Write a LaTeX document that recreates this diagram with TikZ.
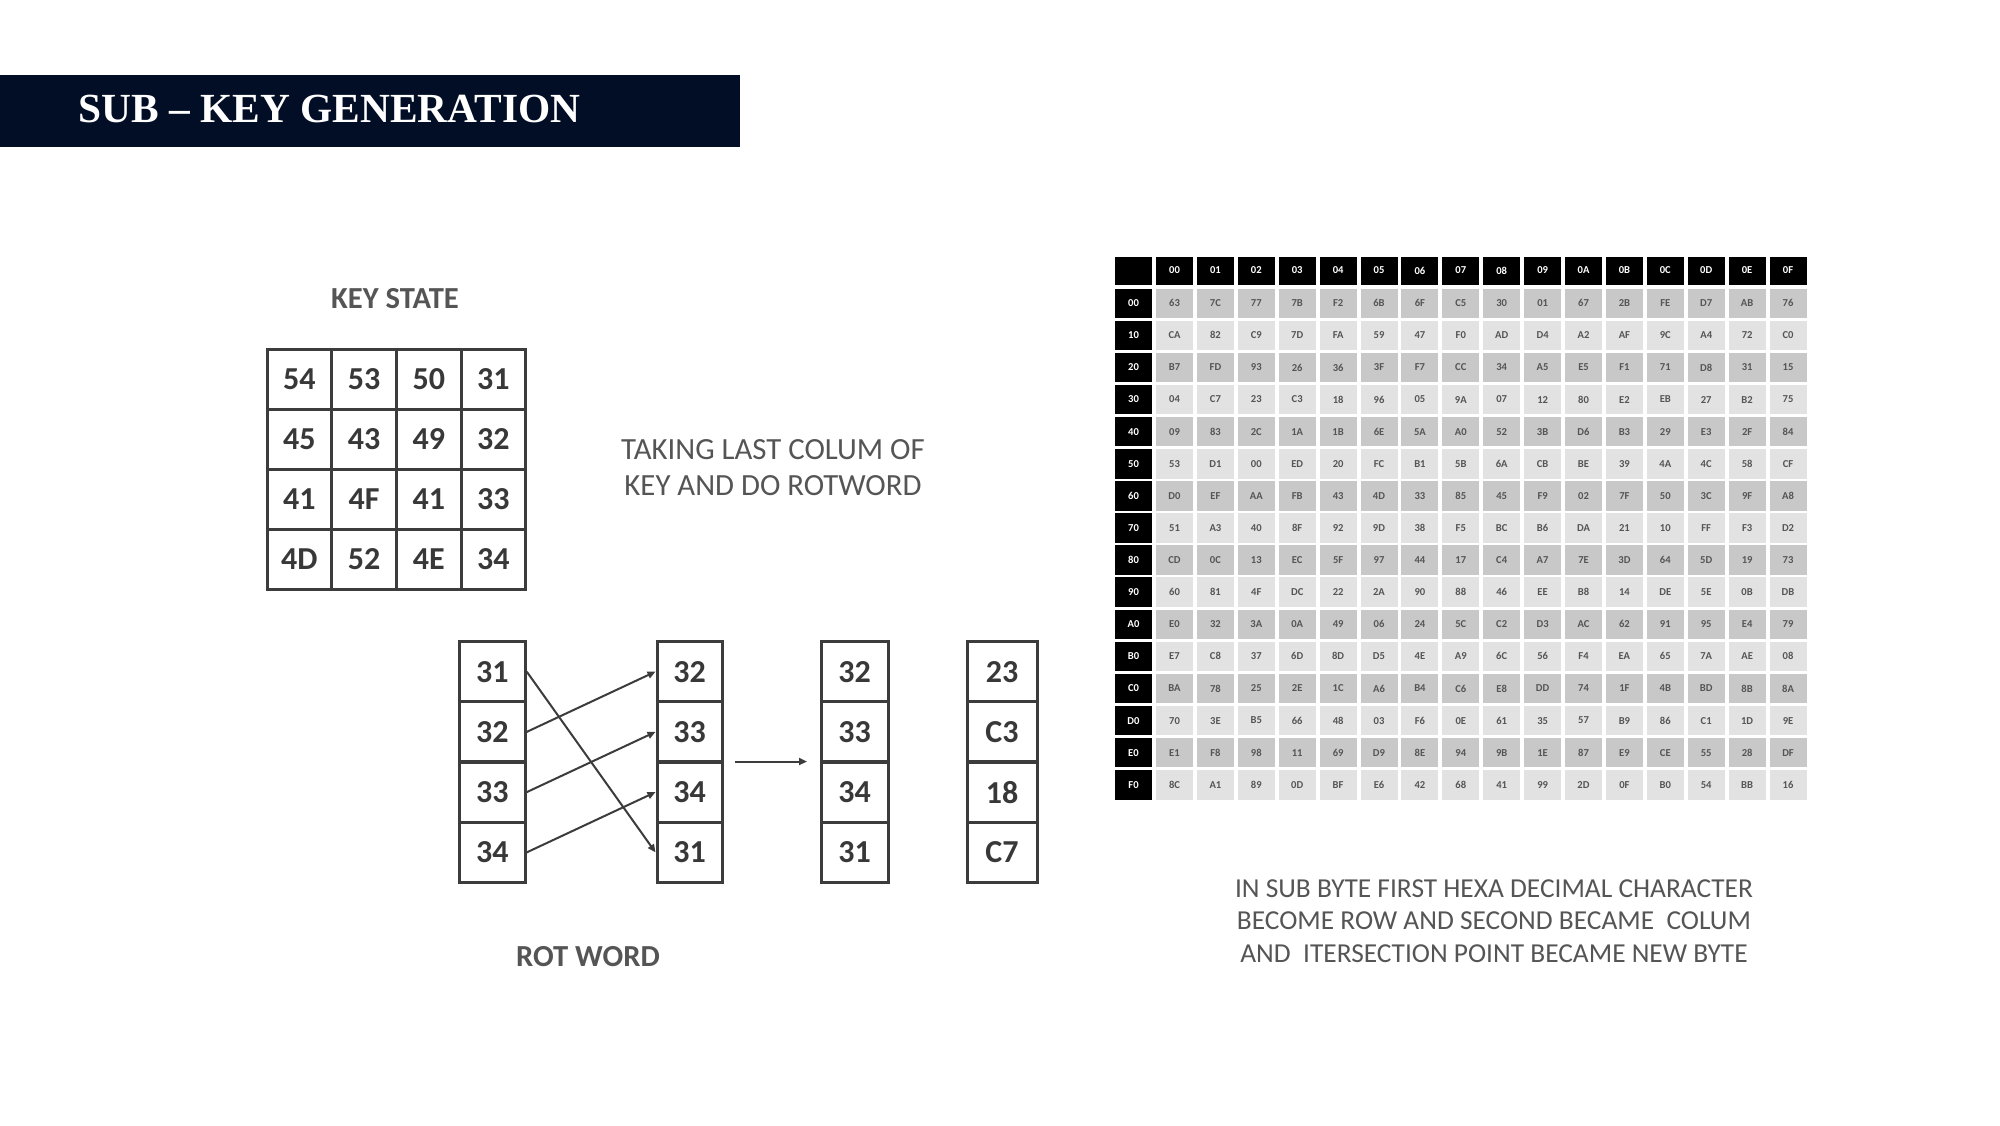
\documentclass[tikz,border=0pt]{standalone}
\usepackage{fontspec}
\setmainfont{Liberation Serif}
\newfontfamily\calfont{Carlito}
\usetikzlibrary{arrows.meta}
\definecolor{navy}{HTML}{020D26}
\definecolor{kline}{HTML}{3C3C3C}
\definecolor{ktext}{HTML}{383838}
\definecolor{rowA}{HTML}{C8C8C8}
\definecolor{rowB}{HTML}{E2E2E2}
\definecolor{ttext}{HTML}{555555}
\definecolor{captext}{HTML}{555555}
\tikzset{
  kcell/.style={draw=kline, line width=1.5pt, minimum width=32.35pt, minimum height=30pt, inner sep=0pt, font=\calfont\bfseries\fontsize{16}{16}\selectfont, text=ktext},
  rcell/.style={draw=kline, line width=1.5pt, minimum height=30.1pt, inner sep=0pt, font=\calfont\bfseries\fontsize{16}{16}\selectfont, text=ktext},
  hcell/.style={fill=black, minimum width=18.5pt, minimum height=14pt, inner sep=0pt, font=\calfont\bfseries\fontsize{5.3}{5.3}\selectfont, text=white},
  dcell/.style={minimum width=18.5pt, minimum height=14.75pt, inner sep=0pt, font=\calfont\bfseries\fontsize{5.3}{5.3}\selectfont, text=ttext},
  lab/.style={font=\calfont\bfseries\fontsize{15.3}{15.3}\selectfont, text=captext},
  note/.style={align=center, text=captext},
  arr/.style={draw=kline, line width=1pt, -{Triangle[length=4pt,width=3.5pt]}}
}
\begin{document}
\begin{tikzpicture}[x=0.5pt,y=-0.5pt]
\useasboundingbox (0,0) rectangle (2000,1125);
% title bar
\fill[navy] (0,75) rectangle (740,147);
\node[anchor=west, text=white, font=\bfseries\fontsize{20.7}{20.7}\selectfont, inner sep=0pt] (title) at (78,108.5) {SUB -- KEY GENERATION};
% key state
\node[lab] (kslab) at (395,299) {KEY STATE};
\foreach \r/\vals in {0/{54,53,50,31},1/{45,43,49,32},2/{41,4F,41,33},3/{4D,52,4E,34}}{
  \foreach \v [count=\c from 0] in \vals {
    \node[kcell] (k-\r-\c) at ({267+64.7*(\c+0.5)},{349+60*(\r+0.5)}) {\v};
  }
}
\node[note, font=\calfont\fontsize{15.4}{18}\selectfont] (takenote) at (773,468) {TAKING LAST COLUM OF\\KEY AND DO ROTWORD};
% rot word columns
\foreach \col/\x/\w/\vals in {a/492.25/33/{31,32,33,34}, b/689.5/32.5/{32,33,34,31}, c/854.5/33.5/{32,33,34,31}, d/1002/35/{23,C3,18,C7}}{
  \foreach \v [count=\r from 1] in \vals {
    \node[rcell, minimum width=\w pt] (\col-\r) at (\x,{641.5+60.25*(\r-0.5)}) {\v};
  }
}
\draw[arr] (a-1.east) -- (b-4.west);
\draw[arr] (a-2.east) -- (b-1.west);
\draw[arr] (a-3.east) -- (b-2.west);
\draw[arr] (a-4.east) -- (b-3.west);
\coordinate (m1) at (735,761.5);
\coordinate (m2) at (807,761.5);
\draw[arr] (m1) -- (m2);
\node[lab] (rotlab) at (588,957) {ROT WORD};
% S-box table
\node[hcell] (corner) at (1133.5,270.5) {};
\foreach \h [count=\c from 0] in {00,01,02,03,04,05,06,07,08,09,0A,0B,0C,0D,0E,0F}{
  \node[hcell] (h-\c) at ({1174.5+40.9*\c},270.5) {\h};
}
\foreach \r/\lb/\rc/\vals in {
0/00/rowA/{63,7C,77,7B,F2,6B,6F,C5,30,01,67,2B,FE,D7,AB,76},
1/10/rowB/{CA,82,C9,7D,FA,59,47,F0,AD,D4,A2,AF,9C,A4,72,C0},
2/20/rowA/{B7,FD,93,26,36,3F,F7,CC,34,A5,E5,F1,71,D8,31,15},
3/30/rowB/{04,C7,23,C3,18,96,05,9A,07,12,80,E2,EB,27,B2,75},
4/40/rowA/{09,83,2C,1A,1B,6E,5A,A0,52,3B,D6,B3,29,E3,2F,84},
5/50/rowB/{53,D1,00,ED,20,FC,B1,5B,6A,CB,BE,39,4A,4C,58,CF},
6/60/rowA/{D0,EF,AA,FB,43,4D,33,85,45,F9,02,7F,50,3C,9F,A8},
7/70/rowB/{51,A3,40,8F,92,9D,38,F5,BC,B6,DA,21,10,FF,F3,D2},
8/80/rowA/{CD,0C,13,EC,5F,97,44,17,C4,A7,7E,3D,64,5D,19,73},
9/90/rowB/{60,81,4F,DC,22,2A,90,88,46,EE,B8,14,DE,5E,0B,DB},
10/A0/rowA/{E0,32,3A,0A,49,06,24,5C,C2,D3,AC,62,91,95,E4,79},
11/B0/rowB/{E7,C8,37,6D,8D,D5,4E,A9,6C,56,F4,EA,65,7A,AE,08},
12/C0/rowA/{BA,78,25,2E,1C,A6,B4,C6,E8,DD,74,1F,4B,BD,8B,8A},
13/D0/rowB/{70,3E,B5,66,48,03,F6,0E,61,35,57,B9,86,C1,1D,9E},
14/E0/rowA/{E1,F8,98,11,69,D9,8E,94,9B,1E,87,E9,CE,55,28,DF},
15/F0/rowB/{8C,A1,89,0D,BF,E6,42,68,41,99,2D,0F,B0,54,BB,16}}{
  \node[hcell, minimum height=14.75pt] (rl-\r) at (1133.5,{303.25+32.1*\r}) {\lb};
  \foreach \v [count=\c from 0] in \vals {
    \node[dcell, fill=\rc] (t-\r-\c) at ({1174.5+40.9*\c},{303.25+32.1*\r}) {\v};
  }
}
\node[note, font=\calfont\fontsize{13.7}{16.25}\selectfont] (subnote) at (1494,921) {IN SUB BYTE FIRST HEXA DECIMAL CHARACTER\\BECOME ROW AND SECOND BECAME\ \ COLUM\\AND\ \ ITERSECTION POINT BECAME NEW BYTE};
\end{tikzpicture}
\end{document}
